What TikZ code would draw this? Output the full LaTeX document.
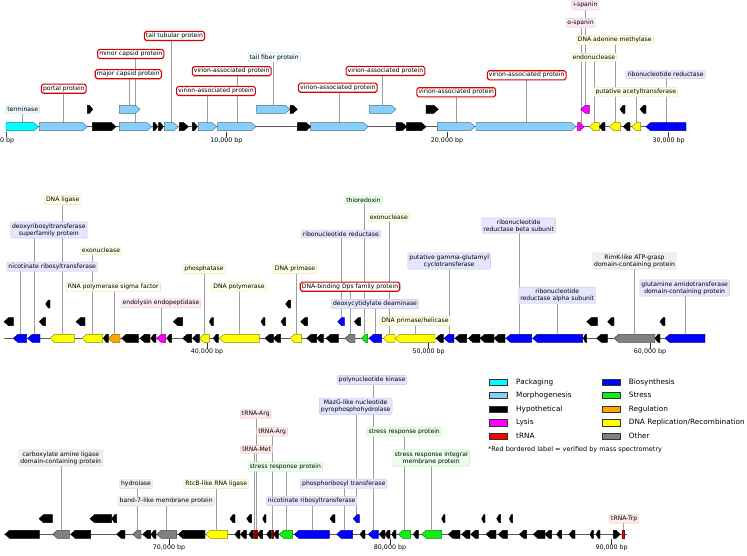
\documentclass[tikz,border=0pt]{standalone}
\usepackage{fontspec}
\setmainfont{DejaVu Sans}
\pgfdeclarelayer{bg}
\pgfsetlayers{bg,main}
\definecolor{cPack}{HTML}{00FFFF}
\definecolor{cMorph}{HTML}{87CEFA}
\definecolor{cHyp}{HTML}{000000}
\definecolor{cLys}{HTML}{FF00FF}
\definecolor{cTrna}{HTML}{FF0000}
\definecolor{cBio}{HTML}{0000FF}
\definecolor{cStr}{HTML}{11EE11}
\definecolor{cReg}{HTML}{FFA500}
\definecolor{cRep}{HTML}{FFFF00}
\definecolor{cOth}{HTML}{808080}
\tikzset{
 gene/.style={fill=#1, draw=#1!55!black, line width=0.45pt},
 lab/.style={font=\fontsize{6.1}{7.2}\selectfont, inner xsep=1.6pt, inner ysep=1.6pt, rounded corners=1pt, line width=0.4pt, align=center},
 lbRed/.style={lab, fill=white, draw=red!85!black, line width=1.1pt, rounded corners=1.8pt},
 lbPack/.style={lab, fill=cyan!8, draw=cyan!25!gray!40},
 lbMorph/.style={lab, fill=blue!4!cyan!6, draw=blue!20!gray!30},
 lbLysis/.style={lab, fill=magenta!9, draw=magenta!20!gray!35},
 lbTrna/.style={lab, fill=red!9, draw=red!20!gray!35},
 lbBio/.style={lab, fill=blue!10, draw=blue!20!gray!35},
 lbStress/.style={lab, fill=green!9, draw=green!40!gray!35},
 lbReg/.style={lab, fill=orange!8!yellow!5, draw=orange!30!gray!35},
 lbRep/.style={lab, fill=yellow!10, draw=yellow!50!gray!40},
 lbOther/.style={lab, fill=black!6, draw=black!15},
 lead/.style={draw=black!38, line width=0.6pt},
 gline/.style={draw=black!65, line width=1.2pt},
 tickmark/.style={draw=black!80, line width=0.5pt},
 ticklab/.style={font=\fontsize{6.3}{7}\selectfont, inner sep=0pt, anchor=north},
 legtxt/.style={font=\fontsize{7.3}{8}\selectfont, anchor=west, inner sep=0pt},
 legsw/.style={draw=black!80, line width=0.5pt, minimum width=18pt, minimum height=6.5pt, inner sep=0pt},
 foot/.style={font=\fontsize{6.5}{7.5}\selectfont, anchor=west, inner sep=0pt},
}
% forward gene: name x1 x2 y colour
\newcommand\GF[5]{%
 \pgfmathsetmacro\gtip{min(4.5,0.6*(#3-#2))}%
 \pgfmathsetmacro\gmid{#3-\gtip}%
 \draw[gene=#5] (#2,#4-4) -- (\gmid,#4-4) -- (#3,#4) -- (\gmid,#4+4) -- (#2,#4+4) -- cycle;
 \coordinate (#1) at ({(#2+#3)/2},#4-4);}
% reverse gene
\newcommand\GR[5]{%
 \pgfmathsetmacro\gtip{min(4.5,0.6*(#3-#2))}%
 \pgfmathsetmacro\gmid{#2+\gtip}%
 \draw[gene=#5] (#3,#4-4) -- (\gmid,#4-4) -- (#2,#4) -- (\gmid,#4+4) -- (#3,#4+4) -- cycle;
 \coordinate (#1) at ({(#2+#3)/2},#4-4);}
% tRNA bar
\newcommand\GT[4]{%
 \draw[gene=cTrna] (#2,#4-4) rectangle (#3,#4+4);
 \coordinate (#1) at ({(#2+#3)/2},#4-4);}
% tick
\newcommand\Tick[5][]{%
 \coordinate (#2t) at (#3,#4+5);
 \node[ticklab,#1] (#2) at (#3,#4+10.5) {#5};
 \draw[tickmark] (#2t) -- (#2t |- #2.north);}
\begin{document}
\begin{tikzpicture}[x=1pt,y=-1pt]
\useasboundingbox (0,0) rectangle (747,556);
% genome lines
\coordinate (r1a) at (6,126.7); \coordinate (r1b) at (686,126.7);
\coordinate (r2a) at (4,338.3); \coordinate (r2b) at (705,338.3);
\coordinate (r3a) at (4,534.3); \coordinate (r3b) at (626.7,534.3);
\draw[gline] (r1a) -- (r1b);
\draw[gline] (r2a) -- (r2b);
\draw[gline] (r3a) -- (r3b);
% ---------------- row 1
\GF{term}{6}{38.3}{126.7}{cPack}
\GF{portal}{39.3}{87.3}{126.7}{cMorph}
\GF{min}{119.3}{151.7}{126.7}{cMorph}
\GF{maj}{119.3}{140}{109.3}{cMorph}
\GF{tt}{164.3}{178.3}{126.7}{cMorph}
\GF{va1}{198.3}{216.7}{126.7}{cMorph}
\GF{va2}{217.7}{256}{126.7}{cMorph}
\GF{tf}{256.7}{290}{109.3}{cMorph}
\GF{va3}{310.7}{368.3}{126.7}{cMorph}
\GF{va4}{369.3}{396}{109.3}{cMorph}
\GF{va5}{437.3}{475}{126.7}{cMorph}
\GF{va6}{476}{576}{126.7}{cMorph}
\GF{osp}{577.7}{584}{126.7}{cLys}
\GR{isp}{580.7}{589.3}{109.3}{cLys}
\GR{endo}{589.3}{599.3}{126.7}{cRep}
\GR{dam}{609.3}{620.7}{126.7}{cRep}
\GR{acet}{631.7}{640.7}{126.7}{cRep}
\GR{rnr1}{646}{686}{126.7}{cBio}
\foreach \a/\b in {92.3/116,153/157.7,158.7/163.3,179.3/188.3,192.3/197.3,297.3/310.7,396/406.7,406.7/426}{\GF{x}{\a}{\b}{126.7}{cHyp}}
\foreach \a/\b in {599.3/605,623.3/630}{\GR{x}{\a}{\b}{126.7}{cHyp}}
\foreach \a/\b in {87.3/92.7,290/297.3,426/438.3}{\GF{x}{\a}{\b}{109.3}{cHyp}}
\foreach \a/\b in {620/625,640/646}{\GR{x}{\a}{\b}{109.3}{cHyp}}
% ---------------- row 2
\GR{nic1}{13.3}{26.7}{338.3}{cBio}
\GR{deoxy}{27.7}{40}{338.3}{cBio}
\GR{lig}{50}{74.3}{338.3}{cRep}
\GR{exo1}{82}{102.7}{338.3}{cRep}
\GR{sig}{108.3}{120}{338.3}{cReg}
\GR{endl}{156.7}{165.7}{338.3}{cLys}
\GR{phos}{199.3}{209.3}{338.3}{cRep}
\GR{pol}{219.3}{259.3}{338.3}{cRep}
\GR{prim}{290}{301.7}{338.3}{cRep}
\GR{rnr2}{337.7}{344.3}{321.7}{cBio}
\GR{dps}{345}{355}{338.3}{cOth}
\GR{thio}{361.7}{367.7}{338.3}{cStr}
\GR{dcd}{369}{381.7}{338.3}{cBio}
\GR{exo2}{383.3}{395}{338.3}{cRep}
\GR{hel}{395}{435}{338.3}{cRep}
\GR{ggct}{444}{454}{338.3}{cBio}
\GR{rnrb}{506}{531.7}{338.3}{cBio}
\GR{rnra}{532.7}{582.7}{338.3}{cBio}
\GR{rimk}{614}{655}{338.3}{cOth}
\GR{glut}{665}{705}{338.3}{cBio}
\foreach \a/\b in {103.3/108.3,121.7/138.3,140/150,150.7/156,166.7/171.7,182.7/191.7,192.7/199.3,213.3/218.3,265/273.3,273.3/280.7,306.7/316.7,316.7/323.3,326/338.3,436/443.3,455/466.7,468.3/480,480/494,494/505,583.3/586.7,596.7/607.3,655/660}{\GR{x}{\a}{\b}{338.3}{cHyp}}
\foreach \a/\b in {4/13.3,39.3/45.7,76/85,173.3/182.7,209.3/213.3,261/265,281/285.7,300.7/307.7,354.3/360.7,586.7/597.3,607.7/614,660/665}{\GR{x}{\a}{\b}{321.7}{cHyp}}
\foreach \a/\b in {45.7/50,285.7/290.7}{\GR{x}{\a}{\b}{304}{cHyp}}
% ---------------- row 3
\GR{carb}{52.7}{69.3}{534.3}{cOth}
\GR{hyd}{132.7}{141}{534.3}{cOth}
\GR{band}{156.7}{176.7}{534.3}{cOth}
\GR{rtcb}{205.7}{227.7}{534.3}{cRep}
\GT{trm}{254}{255.2}{534.3}
\GT{tra1}{255.8}{257}{534.3}
\GT{tra2}{271.8}{273}{534.3}
\GR{s1}{279.3}{292.7}{534.3}{cStr}
\GR{nic2}{294.3}{329.3}{534.3}{cBio}
\GR{prt}{336.7}{352.7}{534.3}{cBio}
\GR{mazg}{353.3}{359.3}{518.7}{cBio}
\GR{pnk}{368.3}{378.3}{534.3}{cBio}
\GR{s2}{398.3}{410.7}{534.3}{cStr}
\GR{sim}{421.7}{441.7}{534.3}{cStr}
\GT{trw}{622.5}{624}{534.3}
\foreach \a/\b in {5/39.3,70.7/90.7,116.7/125,142.7/150.7,151/156,178.3/205,235/240,240.5/246.5,249/253.5,257.5/262.7,266.7/271.5,273.5/278.5,360/365,379.3/385,385/390,391.7/396,413.3/418.3,448.3/460,461.7/470,470.7/478.3,486/496,498.3/507.3,519.3/526.7,533.3/545,545/551.7,556.7/561.7,569/575,590/593.3,596/600}{\GR{x}{\a}{\b}{534.3}{cHyp}}
\GF{x}{613.3}{620}{534.3}{cHyp}
\foreach \a/\b in {39/52.3,90/111.7,111.7/116.7,230/235,246.7/251.7,262.7/266,330/335,441.7/445,481.7/485,496.7/500.7,509.3/512.7}{\GR{x}{\a}{\b}{518.7}{cHyp}}
% ---------------- ticks
\Tick[anchor=north west,xshift=-6pt]{k0}{6}{126.7}{0 bp}
\Tick{k10}{226.3}{126.7}{10,000 bp}
\Tick{k20}{447}{126.7}{20,000 bp}
\Tick{k30}{668.7}{126.7}{30,000 bp}
\Tick{k40}{207}{338.3}{40,000 bp}
\Tick{k50}{428.7}{338.3}{50,000 bp}
\Tick{k60}{650}{338.3}{60,000 bp}
\Tick{k70}{169}{534.3}{70,000 bp}
\Tick{k80}{390}{534.3}{80,000 bp}
\Tick{k90}{611.7}{534.3}{90,000 bp}
% ---------------- labels row 1
\node[lbPack] (Lterm) at (22.7,109.5) {terminase};
\node[lbRed] (Lportal) at (63.8,88.7) {portal protein};
\node[lbRed] (Lmin) at (130.8,54) {minor capsid protein};
\node[lbRed] (Lmaj) at (128.3,74.2) {major capsid protein};
\node[lbRed] (Ltt) at (174.5,36) {tail tubular protein};
\node[lbRed] (Lva2) at (231.7,71.2) {virion-associated protein};
\node[lbRed] (Lva1) at (216,91) {virion-associated protein};
\node[lbMorph] (Ltf) at (274.2,57.5) {tail fiber protein};
\node[lbRed] (Lva3) at (337.8,87.7) {virion-associated protein};
\node[lbRed] (Lva4) at (385.5,71) {virion-associated protein};
\node[lbRed] (Lva5) at (456.3,92.3) {virion-associated protein};
\node[lbRed] (Lva6) at (526.7,75.3) {virion-associated protein};
\node[lbLysis] (Lisp) at (585.3,5.3) {i-spanin};
\node[lbLysis] (Losp) at (580.5,23) {o-spanin};
\node[lbRep] (Ldam) at (614.7,40) {DNA adenine methylase};
\node[lbRep] (Lendo) at (593.8,57.3) {endonuclease};
\node[lbBio] (Lrnr1) at (665.5,74.7) {ribonucleotide reductase};
\node[lbRep] (Lacet) at (635.8,92) {putative acetyltransferase};
% labels row 2
\node[lbRep] (Llig) at (62.7,200) {DNA ligase};
\node[lbBio] (Ldeoxy) at (48.8,230) {deoxyribosyltransferase\\superfamily protein};
\node[lbRep] (Lexo1) at (101,250.7) {exonuclease};
\node[lbBio] (Lnic1) at (52.2,266.7) {nicotinate ribosyltransferase};
\node[lbReg] (Lsig) at (113.3,286.7) {RNA polymerase sigma factor};
\node[lbLysis] (Lendl) at (161,303.3) {endolysin endopeptidase};
\node[lbRep] (Lphos) at (204,269) {phosphatase};
\node[lbRep] (Lpol) at (239,286.7) {DNA polymerase};
\node[lbRep] (Lprim) at (295,269) {DNA primase};
\node[lbBio] (Lrnr2) at (340.8,234) {ribonucleotide reductase};
\node[lbStress] (Lthio) at (363.5,200) {thioredoxin};
\node[lbRep] (Lexo2) at (388.8,217.3) {exonuclease};
\node[lbRed] (Ldps) at (350,286.7) {DNA-binding Dps family protein};
\node[lbBio] (Ldcd) at (375,304) {deoxycytidylate deaminase};
\node[lbRep] (Lhel) at (415,321) {DNA primase/helicase};
\node[lbBio] (Lggct) at (449.2,261) {putative gamma-glutamyl\\cyclotransferase};
\node[lbBio] (Lrnrb) at (518.7,225.5) {ribonucleotide\\reductase beta subunit};
\node[lbBio] (Lrnra) at (557.2,295.3) {ribonucleotide\\reductase alpha subunit};
\node[lbOther] (Lrimk) at (634.5,261) {RimK-like ATP-grasp\\domain-containing protein};
\node[lbBio] (Lglut) at (684.7,288) {glutamine amidotransferase\\domain-containing protein};
% labels row 3
\node[lbOther] (Lcarb) at (60.7,458) {carboxylate amine ligase\\domain-containing protein};
\node[lbOther] (Lhyd) at (136,484) {hydrolase};
\node[lbOther] (Lband) at (166.2,501.3) {band-7-like membrane protein};
\node[lbRep] (Lrtcb) at (216.3,484) {RtcB-like RNA ligase};
\node[lbTrna] (Ltra1) at (255.8,414.3) {tRNA-Arg};
\node[lbTrna] (Ltra2) at (272.2,431.7) {tRNA-Arg};
\node[lbTrna] (Ltrm) at (256.7,449.3) {tRNA-Met};
\node[lbStress] (Ls1) at (285.3,466.7) {stress response protein};
\node[lbBio] (Lnic2) at (311.7,501) {nicotinate ribosyltransferase};
\node[lbBio] (Lprt) at (343.7,483.7) {phosphoribosyl transferase};
\node[lbBio] (Lmazg) at (355.7,406.2) {MazG-like nucleotide\\pyrophosphohydrolase};
\node[lbBio] (Lpnk) at (372,380) {polynucleotide kinase};
\node[lbStress] (Ls2) at (404.2,431.7) {stress response protein};
\node[lbStress] (Lsim) at (431.2,458) {stress response integral\\membrane protein};
\node[lbTrna] (Ltrw) at (624.2,518.7) {tRNA-Trp};
% ---------------- leader lines
\begin{pgfonlayer}{bg}
\foreach \g in {term,portal,min,maj,tt,va1,va2,tf,va3,va4,va5,va6,isp,osp,dam,endo,rnr1,acet,
  lig,deoxy,exo1,nic1,sig,endl,phos,pol,prim,rnr2,thio,exo2,dps,dcd,hel,ggct,rnrb,rnra,rimk,glut,
  carb,hyd,band,rtcb,tra1,tra2,trm,s1,nic2,prt,mazg,pnk,s2,sim,trw}
  {\draw[lead] (L\g.south -| \g) -- (\g);}
\end{pgfonlayer}
% ---------------- legend
\node[legsw, fill=cPack] (swPack) at (498.2,382) {};
\node[legtxt] (tPack) at (516,382) {Packaging};
\node[legsw, fill=cMorph] (swMorph) at (498.2,395.3) {};
\node[legtxt] (tMorph) at (516,395.3) {Morphogenesis};
\node[legsw, fill=cHyp] (swHyp) at (498.2,409) {};
\node[legtxt] (tHyp) at (516,409) {Hypothetical};
\node[legsw, fill=cLys] (swLys) at (498.2,422.7) {};
\node[legtxt] (tLys) at (516,422.7) {Lysis};
\node[legsw, fill=cTrna] (swTrna) at (498.2,436) {};
\node[legtxt] (tTrna) at (516,436) {tRNA};
\node[legsw, fill=cBio] (swBio) at (610.8,382) {};
\node[legtxt] (tBio) at (628.7,382) {Biosynthesis};
\node[legsw, fill=cStr] (swStr) at (610.8,395.3) {};
\node[legtxt] (tStr) at (628.7,395.3) {Stress};
\node[legsw, fill=cReg] (swReg) at (610.8,409) {};
\node[legtxt] (tReg) at (628.7,409) {Regulation};
\node[legsw, fill=cRep] (swRep) at (610.8,422.7) {};
\node[legtxt] (tRep) at (628.7,422.7) {DNA Replication/Recombination};
\node[legsw, fill=cOth] (swOth) at (610.8,436) {};
\node[legtxt] (tOth) at (628.7,436) {Other};
\node[foot] (fnote) at (488,450) {*Red bordered label = verified by mass spectrometry};
\end{tikzpicture}
\end{document}
